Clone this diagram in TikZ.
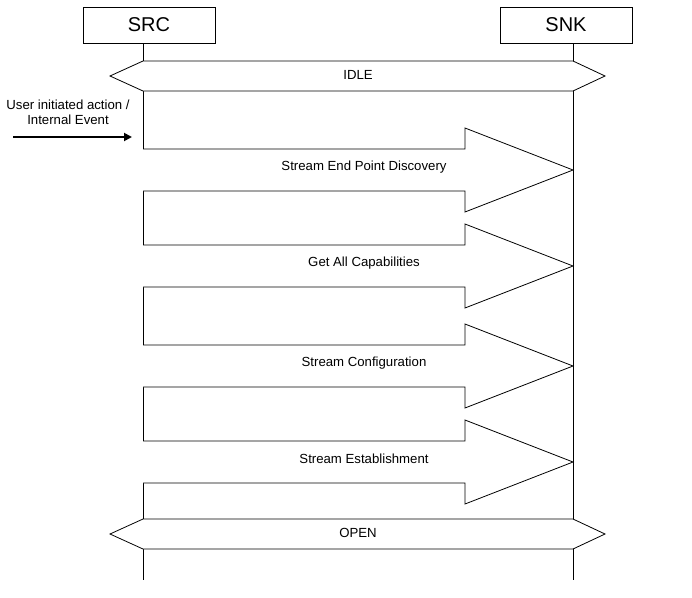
\documentclass[tikz,border=0pt]{standalone}
\usepackage{fontspec}
\setmainfont{Liberation Sans}
\usetikzlibrary{positioning, arrows.meta}

\begin{document}
\begin{tikzpicture}[
    x=1pt, y=-1pt,
    line width=0.8pt,
    entity/.style={draw, rectangle, minimum width=132pt, minimum height=36pt, font=\fontsize{20}{22}\selectfont},
    label/.style={font=\fontsize{13.2}{15}\selectfont},
    state/.style={draw, fill=white}
]
\useasboundingbox (0,0) rectangle (692,597);

\node[entity] (src) at (149,25) {SRC};
\node[entity] (snk) at (566,25) {SNK};
\coordinate (srcend) at (143,580);
\coordinate (snkend) at (573,580);

% lifelines
\draw (src.south -| srcend) -- (srcend);
\draw (snk.south -| snkend) -- (snkend);

% states
\draw[state] (110,76) -- (143,61) -- (573,61) -- (605,76) -- (573,91) -- (143,91) -- cycle;
\node[label] (idle) at (358,75) {IDLE};
\draw[state] (110,534) -- (143,519) -- (573,519) -- (605,534) -- (573,549) -- (143,549) -- cycle;
\node[label] (open) at (358,533) {OPEN};

% trigger
\node[label, align=center] (user) at (68,112) {User initiated action /\\ Internal Event};
\coordinate (trigstart) at (13,137);
\coordinate (trigend) at (132,137);
\draw[-{Triangle[length=8pt, width=8pt]}, line width=1.8pt] (trigstart) -- (trigend);

% procedures
\foreach \y/\txt [count=\i] in {170/Stream End Point Discovery, 266/Get All Capabilities, 366/Stream Configuration, 462/Stream Establishment}{
    \draw[state] (143,\y-21) -- (465,\y-21) -- (465,\y-42) -- (573,\y) -- (465,\y+42) -- (465,\y+21) -- (143,\y+21);
    \node[label] (proc\i) at (364,\y-3) {\txt};
}

\end{tikzpicture}
\end{document}
